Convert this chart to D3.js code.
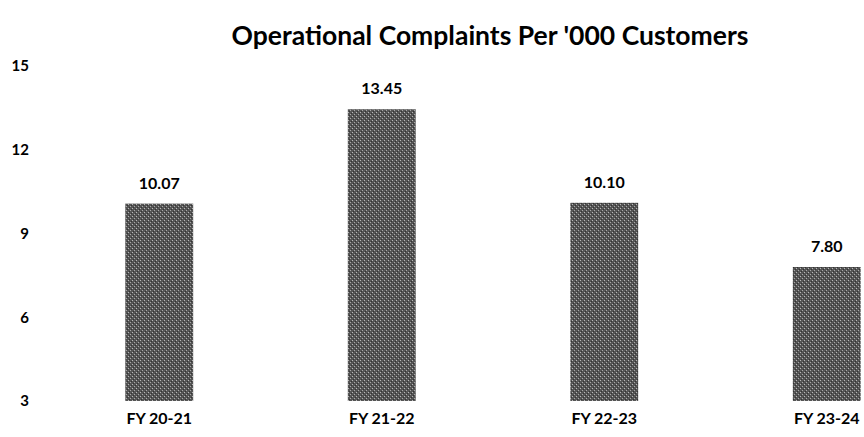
<!DOCTYPE html>
<html>
<head>
<meta charset="utf-8">
<script src="https://cdn.jsdelivr.net/npm/d3@7"></script>
<style>
  html, body { margin: 0; padding: 0; background: #fff; }
  svg text { font-family: Lato, "Open Sans", sans-serif; font-weight: bold; fill: #000; }
</style>
</head>
<body>
<svg id="chart" width="864" height="437"></svg>
<script>
const categories = ["FY 20-21", "FY 21-22", "FY 22-23", "FY 23-24"];
const values = [10.07, 13.45, 10.10, 7.80];
const valueLabels = ["10.07", "13.45", "10.10", "7.80"];
const yTicks = [3, 6, 9, 12, 15];
const title = "Operational Complaints Per '000 Customers";

const svg = d3.select("#chart");

// texture for bars
const defs = svg.append("defs");
const pat = defs.append("pattern").attr("id", "tex").attr("patternUnits", "userSpaceOnUse")
  .attr("width", 4).attr("height", 4);
pat.append("rect").attr("width", 4).attr("height", 4).attr("fill", "#555555");
pat.append("rect").attr("x", 0).attr("y", 0).attr("width", 1).attr("height", 1).attr("fill", "#b8b8b8");
pat.append("rect").attr("x", 2).attr("y", 2).attr("width", 1).attr("height", 1).attr("fill", "#a8a8a8");
pat.append("rect").attr("x", 1).attr("y", 3).attr("width", 1).attr("height", 1).attr("fill", "#333333");
pat.append("rect").attr("x", 3).attr("y", 1).attr("width", 1).attr("height", 1).attr("fill", "#333333");

const x = d3.scaleBand().domain(categories).range([48, 938])
  .paddingInner(0.695).paddingOuter(0.3475);
const y = d3.scaleLinear().domain([3, 15]).range([401, 66]);

// title
svg.append("text").attr("x", 490).attr("y", 45).attr("text-anchor", "middle")
  .style("font-size", "26.5px").text(title);

// y axis labels
const yAxis = d3.axisLeft(y).tickValues(yTicks).tickSize(0).tickPadding(0).tickFormat(d3.format("d"));
const gy = svg.append("g").attr("transform", "translate(29,0)").call(yAxis);
gy.select(".domain").remove();
gy.selectAll("text").style("font-size", "15px").style("font-family", "Lato, sans-serif")
  .style("font-weight", "bold").attr("fill", "#000");

// bars
svg.selectAll("rect.bar").data(values).enter().append("rect").attr("class", "bar")
  .attr("x", (d, i) => x(categories[i]))
  .attr("width", x.bandwidth())
  .attr("y", d => y(d))
  .attr("height", d => y(3) - y(d))
  .attr("fill", "url(#tex)");

// value labels
svg.selectAll("text.val").data(values).enter().append("text").attr("class", "val")
  .attr("x", (d, i) => x(categories[i]) + x.bandwidth() / 2)
  .attr("y", d => y(d) - 15)
  .attr("text-anchor", "middle").style("font-size", "16px")
  .text((d, i) => valueLabels[i]);

// x axis labels
const xAxis = d3.axisBottom(x).tickSize(0).tickPadding(0);
const gx = svg.append("g").attr("transform", "translate(0,413)").call(xAxis);
gx.select(".domain").remove();
gx.selectAll("text").style("font-size", "16px").style("font-family", "Lato, sans-serif")
  .style("font-weight", "bold").attr("fill", "#000");
</script>
</body>
</html>
